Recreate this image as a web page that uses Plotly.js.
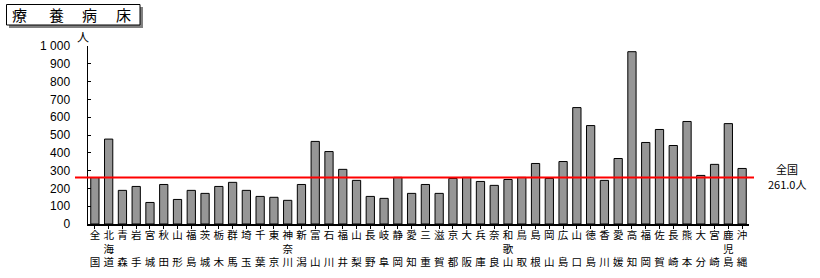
<!DOCTYPE html>
<html>
<head>
<meta charset="utf-8">
<script src="https://cdn.plot.ly/plotly-3.0.1.min.js"></script>
<style>html,body{margin:0;padding:0;background:#fff;}#chart{width:820px;height:278px;}</style>
</head>
<body>
<div id="chart"></div>
<script>
// Category labels (stacked vertically: top / middle / bottom)
const categories = ["全国","北海道","青森","岩手","宮城","秋田","山形","福島","茨城","栃木","群馬","埼玉","千葉","東京","神奈川","新潟","富山","石川","福井","山梨","長野","岐阜","静岡","愛知","三重","滋賀","京都","大阪","兵庫","奈良","和歌山","鳥取","島根","岡山","広島","山口","徳島","香川","愛媛","高知","福岡","佐賀","長崎","熊本","大分","宮崎","鹿児島","沖縄"];
const values = [261,477,189,211,121,222,138,189,172,211,234,189,155,150,133,222,464,407,307,245,155,144,262,172,222,172,256,262,239,217,250,262,340,256,351,654,553,245,368,968,458,531,441,576,273,335,564,312];
const nationalAverage = 261.0;
const yTickVals = [0,100,200,300,400,500,600,700,800,900,1000];
const titleChars = ["療","養","病","床"];

function stackLabel(name){
  const c = Array.from(name);
  if (c.length === 2) return c[0] + "<br> <br>" + c[1];
  return c.join("<br>");
}
const tickText = categories.map(stackLabel);
const xIdx = categories.map((_, i) => i);

// pixel helpers for paper coords
const L = 88, R = 749, T = 46, B = 224;
const px = x => (x - L) / (R - L);
const py = y => (B - y) / (B - T);

const trace = {
  type: "bar",
  x: xIdx,
  y: values,
  marker: {color: "#969696", line: {color: "#000", width: 1}},
  hoverinfo: "skip"
};

const annotations = [
  {xref:"paper", yref:"paper", x: px(787.5), y: py(169), text: "全国", showarrow:false,
   font:{family:"Noto Sans CJK JP", size:11, color:"#000"}, xanchor:"center", yanchor:"middle", borderpad:0},
  {xref:"paper", yref:"paper", x: px(787.5), y: py(184), text: nationalAverage.toFixed(1) + "人", showarrow:false,
   font:{family:"Noto Sans CJK JP", size:11, color:"#000"}, xanchor:"center", yanchor:"middle", borderpad:0},
  {xref:"paper", yref:"paper", x: px(83), y: py(36), text: "人", showarrow:false,
   font:{family:"Noto Sans CJK JP", size:12, color:"#000"}, xanchor:"center", yanchor:"middle", borderpad:0}
];
const titleX = [19.5, 56, 89.5, 123.5];
titleChars.forEach((ch, i) => {
  annotations.push({xref:"paper", yref:"paper", x: px(titleX[i]), y: py(14.5), text: ch, showarrow:false,
    font:{family:"Noto Sans CJK JP", size:15, color:"#000"}, xanchor:"center", yanchor:"middle"});
});

const shapes = [
  // title shadow
  {type:"rect", xref:"paper", yref:"paper", x0: px(9), x1: px(143), y0: py(7), y1: py(28),
   fillcolor:"#808080", line:{width:0}, layer:"above"},
  // title box
  {type:"rect", xref:"paper", yref:"paper", x0: px(6.5), x1: px(140), y0: py(4.5), y1: py(25),
   fillcolor:"#fff", line:{color:"#000", width:1}, layer:"above"},
  // national average line
  {type:"line", xref:"paper", yref:"y", x0: px(75), x1: px(754), y0: nationalAverage, y1: nationalAverage,
   line:{color:"#ff0000", width:2}, layer:"above"}
];

const layout = {
  width: 820, height: 278,
  margin: {l: L, r: 820 - R, t: T, b: 278 - B, pad: 0},
  paper_bgcolor: "#fff", plot_bgcolor: "#fff",
  separators: ". ",
  showlegend: false,
  bargap: 0.4,
  font: {family: "Liberation Sans, Arial, sans-serif", size: 12, color: "#000"},
  xaxis: {
    range: [-0.5, categories.length - 0.5],
    tickvals: xIdx, ticktext: tickText,
    tickson: "boundaries",
    ticks: "outside", ticklen: 3, tickcolor: "#000", tickwidth: 1,
    ticklabelstandoff: -2,
    showline: true, linecolor: "#000", linewidth: 1.5,
    showgrid: false, zeroline: false, fixedrange: true,
    tickangle: 0,
    tickfont: {family: "Noto Sans CJK JP", size: 10.5, color: "#000"}
  },
  yaxis: {
    range: [0, 1000],
    tickvals: yTickVals,
    tickformat: ",d",
    ticks: "inside", ticklen: 3, tickcolor: "#000",
    ticklabelstandoff: 14,
    showline: true, linecolor: "#000", linewidth: 1.5,
    showgrid: false, zeroline: false, fixedrange: true,
    tickfont: {family: "Liberation Sans, Arial, sans-serif", size: 12, color: "#000"}
  },
  annotations: annotations,
  shapes: shapes
};

Plotly.newPlot("chart", [trace], layout, {displayModeBar: false, staticPlot: true});
</script>
</body>
</html>
